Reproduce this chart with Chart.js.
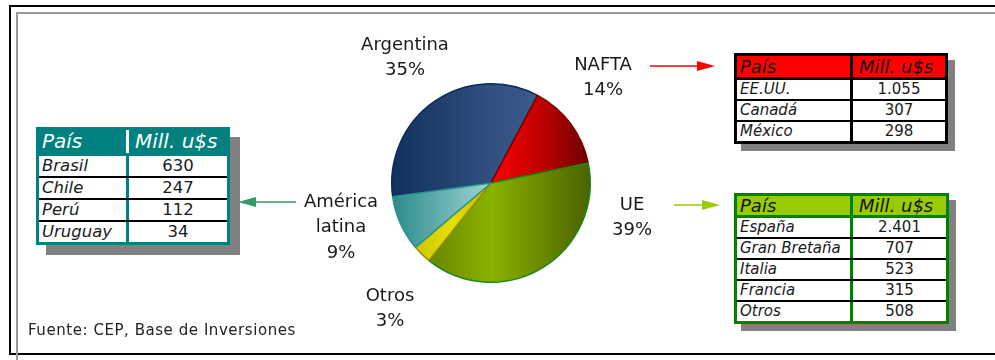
<!DOCTYPE html>
<html>
<head>
<meta charset="utf-8">
<script src="https://cdn.jsdelivr.net/npm/chart.js@4.4.1/dist/chart.umd.min.js"></script>
<style>
  body { margin: 0; background: #fff; font-family: "DejaVu Sans", sans-serif; }
  #wrap { position: relative; width: 995px; height: 360px; overflow: hidden; }
  #chartBox { position: absolute; left: 0; top: 0; width: 995px; height: 360px; }
  .line { position: absolute; }
  .tshadow { position: absolute; background: #808080; }
  .tbl { position: absolute; box-sizing: border-box; background: #fff; }
  .hdr { display: flex; font-style: italic; }
  .hdr div { padding-left: 3px; box-sizing: border-box; }
  .row { display: flex; color: #1a1a1a; }
  .row .c1 { font-style: italic; padding-left: 3px; box-sizing: border-box; }
  .row .c2 { flex: 1; text-align: center; }
  .note { position: absolute; left: 28px; top: 321px; font-size: 15px; letter-spacing: 0.55px; color: #222; }
</style>
</head>
<body>
<div id="wrap">
  <div class="line" style="left:9px;top:5px;width:986px;height:2px;background:#000"></div>
  <div class="line" style="left:9px;top:5px;width:2px;height:350px;background:#000"></div>
  <div class="line" style="left:9px;top:353px;width:986px;height:2px;background:#000"></div>
  <div class="line" style="left:16px;top:12px;width:979px;height:2px;background:#999"></div>
  <div class="line" style="left:16px;top:12px;width:2px;height:348px;background:#999"></div>
  <div id="chartBox"><canvas id="pie"></canvas></div>
  <div class="note">Fuente: CEP, Base de Inversiones</div>
</div>
<script>
// pie data (share of investment, %)
var categories = ['Argentina', 'NAFTA', 'UE', 'Otros', ['América', 'latina']];
var shares = [35, 14, 39, 3, 9];

// detail tables
var headers = ['País', 'Mill. u$s'];
var amlatCountries = ['Brasil', 'Chile', 'Perú', 'Uruguay'];
var amlatValues = ['630', '247', '112', '34'];
var naftaCountries = ['EE.UU.', 'Canadá', 'México'];
var naftaValues = ['1.055', '307', '298'];
var ueCountries = ['España', 'Gran Bretaña', 'Italia', 'Francia', 'Otros'];
var ueValues = ['2.401', '707', '523', '315', '508'];

//============================================
// tables
//============================================
function buildTable(t, countries, values) {
    var wrap = document.getElementById('wrap');
    var el = document.createElement('div');
    el.className = 'tbl';
    el.style.left = t.left + 'px';
    el.style.top = t.top + 'px';
    el.style.width = t.width + 'px';
    el.style.border = '3px solid ' + t.border;

    var h = document.createElement('div');
    h.className = 'hdr';
    h.style.background = t.headBg;
    h.style.color = t.headColor;
    h.style.fontSize = t.headFont + 'px';
    h.style.height = t.headH + 'px';
    h.style.lineHeight = t.headH + 'px';
    h.style.borderBottom = '3px solid ' + t.headLine;
    h.innerHTML = '<div style="width:' + (t.col1 + 3) + 'px;border-right:3px solid ' + t.headDiv + '">' + headers[0] +
        '</div><div style="flex:1;padding-left:6px">' + headers[1] + '</div>';
    el.appendChild(h);

    countries.forEach(function (c, i) {
        var r = document.createElement('div');
        r.className = 'row';
        r.style.fontSize = t.bodyFont + 'px';
        r.style.height = t.rowH + 'px';
        r.style.lineHeight = t.rowH + 'px';
        if (i > 0) r.style.borderTop = '2px solid ' + t.sep;
        r.innerHTML = '<div class="c1" style="width:' + (t.col1 + 3) + 'px;border-right:3px solid ' + t.border + '">' + c +
            '</div><div class="c2">' + values[i] + '</div>';
        el.appendChild(r);
    });

    wrap.appendChild(el);
    var sh = document.createElement('div');
    sh.className = 'tshadow';
    sh.style.left = (t.left + t.shadow) + 'px';
    sh.style.top = (t.top + t.shadow) + 'px';
    sh.style.width = t.width + 'px';
    sh.style.height = el.offsetHeight + 'px';
    wrap.insertBefore(sh, el);
}

buildTable({left: 36, top: 127, width: 194, col1: 87, headH: 23, rowH: 20, shadow: 10, headFont: 20, bodyFont: 16.5,
    border: '#008080', headBg: '#008080', headColor: '#fff', headDiv: '#fff', headLine: '#008080', sep: '#000'},
    amlatCountries, amlatValues);
buildTable({left: 734, top: 53, width: 214, col1: 113, headH: 21, rowH: 19, shadow: 7, headFont: 18, bodyFont: 15,
    border: '#000', headBg: '#ff0000', headColor: '#111', headDiv: '#000', headLine: '#000', sep: '#000'},
    naftaCountries, naftaValues);
buildTable({left: 734, top: 193, width: 215, col1: 113, headH: 19, rowH: 19, shadow: 7, headFont: 18, bodyFont: 15,
    border: '#008000', headBg: '#99cc00', headColor: '#111', headDiv: '#008000', headLine: '#008000', sep: '#000'},
    ueCountries, ueValues);

//============================================
// pie
//============================================
var gradStops = [
    [[0, '#10305e'], [0.5, '#30507f'], [1, '#486b9a']],
    [[0.5, '#ff0000'], [0.75, '#c00000'], [1, '#680000']],
    [[0.1, '#5e7a00'], [0.5, '#8ab200'], [1, '#4a6200']],
    [[0.1, '#c8c000'], [0.3, '#e6e000'], [0.6, '#b0a000']],
    [[0, '#2a8a8a'], [0.5, '#a0d4d4']]
];
var sliceBorders = ['#0a2a58', '#7a0000', '#1a8a10', '#a09000', '#2a9090'];

function sliceFill(context) {
    var chart = context.chart;
    var area = chart.chartArea;
    if (!area) return '#888';
    var g = chart.ctx.createLinearGradient(area.left, 0, area.right, 0);
    gradStops[context.dataIndex].forEach(function (s) { g.addColorStop(s[0], s[1]); });
    return g;
}

var labelPos = [[405, 45], [603, 65], [632, 205], [390, 296], [341, 202]];
var arrows = [
    [650, 66, 715, 66, '#ff0000'],
    [674, 205, 720, 205, '#99cc00'],
    [296, 202, 238, 202, '#339966']
];

var pieLabels = {
    id: 'pieLabels',
    afterDraw: function (chart) {
        var ctx = chart.ctx;
        ctx.save();
        ctx.font = '18px "DejaVu Sans"';
        ctx.fillStyle = '#1a1a1a';
        ctx.textAlign = 'center';
        ctx.textBaseline = 'middle';
        chart.data.labels.forEach(function (lab, i) {
            var lines = [].concat(lab, shares[i] + '%');
            lines.forEach(function (t, k) {
                ctx.fillText(t, labelPos[i][0], labelPos[i][1] + k * 25.5);
            });
        });
        arrows.forEach(function (a) {
            var dir = a[2] > a[0] ? 1 : -1;
            ctx.strokeStyle = a[4];
            ctx.fillStyle = a[4];
            ctx.lineWidth = 1.5;
            ctx.beginPath();
            ctx.moveTo(a[0], a[1]);
            ctx.lineTo(a[2] - dir * 14, a[3]);
            ctx.stroke();
            ctx.beginPath();
            ctx.moveTo(a[2], a[3]);
            ctx.lineTo(a[2] - dir * 18, a[3] - 5);
            ctx.lineTo(a[2] - dir * 18, a[3] + 5);
            ctx.closePath();
            ctx.fill();
        });
        ctx.restore();
    }
};

var config = {
    type: 'pie',
    data: {
        labels: categories,
        datasets: [{
            data: shares,
            backgroundColor: sliceFill,
            borderColor: sliceBorders,
            borderWidth: 1.5,
            label: 'Inversiones'
        }]
    },
    options: {
        responsive: true,
        maintainAspectRatio: false,
        animation: false,
        rotation: -98,
        layout: {
            padding: {left: 391, right: 404, top: 83, bottom: 77}
        },
        plugins: {
            legend: {display: false},
            tooltip: {enabled: false}
        }
    },
    plugins: [pieLabels]
};

var ctx = document.getElementById('pie').getContext('2d');
new Chart(ctx, config);
</script>
</body>
</html>
